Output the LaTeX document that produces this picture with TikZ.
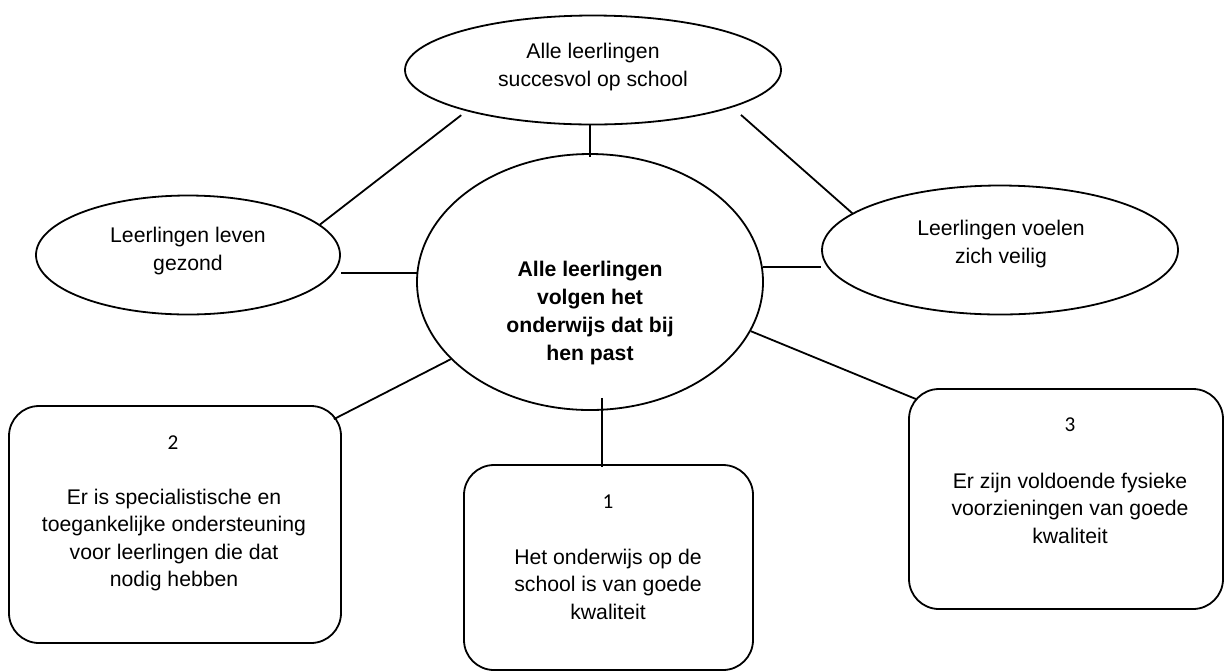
\documentclass[tikz,border=0pt]{standalone}
\usepackage{fontspec}
\setmainfont{Liberation Sans}
\newfontfamily\calibrifont{Carlito}
\usetikzlibrary{shapes.geometric}

\begin{document}
\begin{tikzpicture}[
    % GLOBAL CFG
    x=0.5pt, y=-0.5pt,
    font=\fontsize{10.6}{13.75}\selectfont,
    line width=0.9pt,
    % Styles
    goal/.style={% For the ellipses
        ellipse,
        draw,
        inner sep=0pt,
        },
    field/.style={% For the numbered boxes
        rectangle,
        rounded corners=15pt,
        draw,
        inner sep=0pt,
        },
    goaltext/.style={% Text in ellipses and boxes
        align=center,
        inner sep=0pt,
        },
    maintext/.style={% Bold text of the middle ellipse
        goaltext,
        font=\bfseries\fontsize{10.6}{14}\selectfont,
        },
    number/.style={% Numbers on top of the boxes
        inner sep=0pt,
        font=\calibrifont\fontsize{10.6}{13.75}\selectfont,
        },
    link/.style={% Connecting lines
        line width=0.9pt,
        },
    ]
\useasboundingbox (0,0) rectangle (1225,671);

    % Draw the ellipses
    \node [goal, minimum width=188pt, minimum height=54.5pt] (succes) at (593,70) {};
    \node [goal, minimum width=173pt, minimum height=128pt] (past) at (590,282) {};
    \node [goal, minimum width=152pt, minimum height=59.5pt] (gezond) at (188,255) {};
    \node [goal, minimum width=178pt, minimum height=64.5pt] (veilig) at (1000,250) {};

    % Draw the boxes named box#
    \node [field, minimum width=144.5pt, minimum height=102.5pt] (box1) at (608.5,567.5) {};
    \node [field, minimum width=166pt, minimum height=118.5pt] (box2) at (175,524.5) {};
    \node [field, minimum width=157pt, minimum height=110pt] (box3) at (1066,499) {};

    % Texts
    \node [goaltext] (tsucces) at (593,67) {Alle leerlingen\\succesvol op school};
    \node [goaltext] (tgezond) at (188,251) {Leerlingen leven\\gezond};
    \node [goaltext] (tveilig) at (1001,244) {Leerlingen voelen\\zich veilig};
    \node [maintext] (tpast) at (590,313) {Alle leerlingen\\volgen het\\onderwijs dat bij\\hen past};

    \node [number] (n1) at (608,502) {1};
    \node [goaltext] (t1) at (608,584) {Het onderwijs op de\\school is van goede\\kwaliteit};
    \node [number] (n2) at (173,443) {2};
    \node [goaltext] (t2) at (174,540) {Er is specialistische en\\toegankelijke ondersteuning\\voor leerlingen die dat\\nodig hebben};
    \node [number] (n3) at (1070,425) {3};
    \node [goaltext] (t3) at (1070,508) {Er zijn voldoende fysieke\\voorzieningen van goede\\kwaliteit};

    % Connect all
    \draw [link, shorten <=3.3pt] (succes.198.4) -- (gezond.13);
    \draw [link] (past.north) ++(0,4) -- (past.north |- succes.south);
    \draw [link, shorten <=5.7pt] (succes.-15.4) -- (veilig.166);
    \draw [link] (past.177) -- (past.177 -| gezond.east);
    \draw [link] (past.5) -- (past.5 -| veilig.west);

    % Lines to the boxes
    \draw [link] (past.209.6) -- ([shift={(-8,14)}]box2.north east);
    \draw [link] ([shift={(12,-13)}]past.south) -- ([shift={(-6.5,3)}]box1.north);
    \draw [link] (past.-17) -- ([shift={(8,11)}]box3.north west);

\end{tikzpicture}
\end{document}
